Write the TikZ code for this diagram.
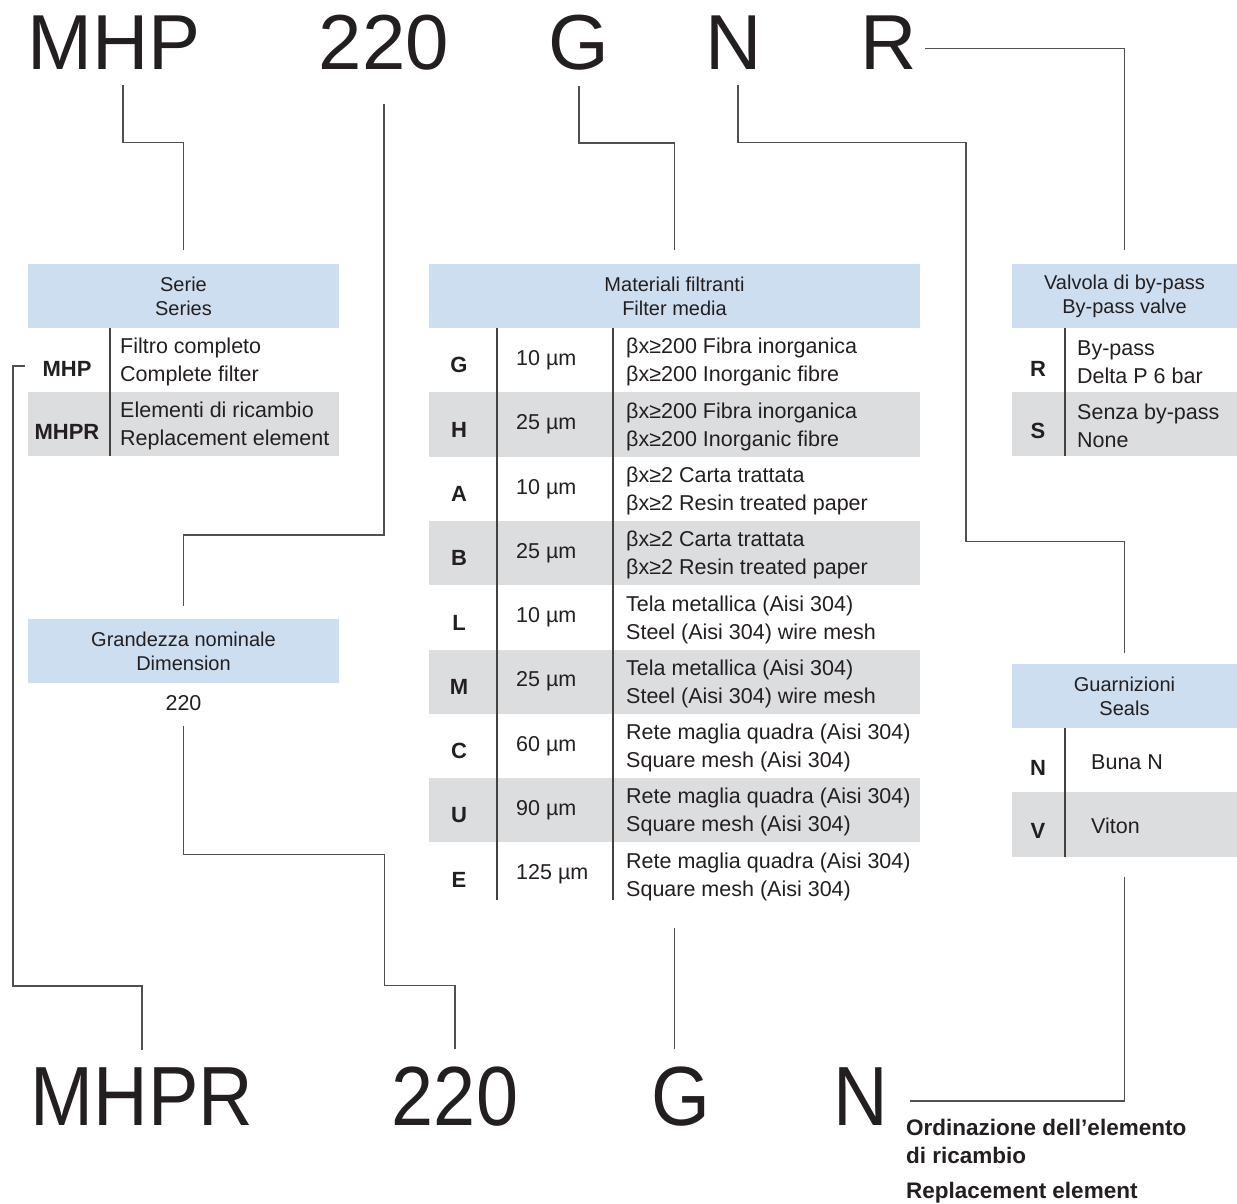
\documentclass[tikz,border=0pt]{standalone}
\usepackage{fontspec}
\setmainfont{Liberation Sans}
\usetikzlibrary{positioning,calc}

\definecolor{ink}{RGB}{35,31,32}
\definecolor{hdrblue}{RGB}{205,222,240}
\definecolor{rowgrey}{RGB}{220,221,223}
\definecolor{wire}{RGB}{80,80,80}

\begin{document}
\begin{tikzpicture}[
  x=1pt,y=-1pt,
  big/.style={font=\fontsize{78}{80}\selectfont,text=ink,inner sep=0pt,anchor=base},
  bigcn/.style={font=\fontsize{84}{86}\selectfont,text=ink,inner sep=0pt,anchor=base},
  hdr/.style={fill=hdrblue,minimum height=64pt,inner sep=0pt,outer sep=0pt,
    align=center,text=ink,font=\fontsize{20}{24}\selectfont},
  rowbox/.style={minimum height=64.3pt,inner sep=0pt,outer sep=0pt},
  greyrow/.style={rowbox,fill=rowgrey},
  code/.style={font=\fontsize{22}{25}\selectfont\bfseries,text=ink,inner sep=0pt},
  txt/.style={font=\fontsize{21.5}{28}\selectfont,text=ink,inner sep=0pt,anchor=west,align=left},
  conn/.style={draw=wire,line width=1.3pt},
  divider/.style={draw=ink!85,line width=1.6pt}
]
  \useasboundingbox (0,0) rectangle (1237,1204);

  % Code on top (complete filter)
  \node[big] (tMHP) at (114,70) {MHP};
  \node[big] (t220) at (384,70) {220};
  \node[big] (tG)   at (579,70) {G};
  \node[big] (tN)   at (734,70) {N};
  \node[big] (tR)   at (889,70) {R};

  % Serie
  \node[hdr,minimum width=311pt] (hSerie) at (183.5,296) {Serie\\Series};
  \node[rowbox,minimum width=311pt] (sMHP) at (183.5,360) {};
  \node[greyrow,minimum width=311pt] (sMHPR) at (183.5,424.3) {};
  \node[code] (cMHP)  at (67,369) {MHP};
  \node[code] (cMHPR) at (67,432) {MHPR};
  \node[txt] (dMHP)  at (120,362) {Filtro completo\\Complete filter};
  \node[txt] (dMHPR) at (120,426) {Elementi di ricambio\\Replacement element};
  \draw[divider] ([xshift=82pt]sMHP.north west) -- ([xshift=82pt]sMHPR.south west);

  % Grandezza nominale
  \node[hdr,minimum width=311pt] (hDim) at (183.5,651) {Grandezza nominale\\Dimension};
  \node[txt,anchor=center] (vDim) at (183.5,703) {220};

  % Materiali filtranti
  \node[hdr,minimum width=491pt] (hMat) at (674.5,296) {Materiali filtranti\\Filter media};
  \node[rowbox,minimum width=491pt]  (mG) at (674.5,360.15) {};
  \node[greyrow,minimum width=491pt] (mH) at (674.5,424.45) {};
  \node[rowbox,minimum width=491pt]  (mA) at (674.5,488.75) {};
  \node[greyrow,minimum width=491pt] (mB) at (674.5,553.05) {};
  \node[rowbox,minimum width=491pt]  (mL) at (674.5,617.35) {};
  \node[greyrow,minimum width=491pt] (mM) at (674.5,681.65) {};
  \node[rowbox,minimum width=491pt]  (mC) at (674.5,745.95) {};
  \node[greyrow,minimum width=491pt] (mU) at (674.5,810.25) {};
  \node[rowbox,minimum width=491pt]  (mE) at (674.5,874.55) {};
  \draw[divider] ([xshift=68pt]mG.north west) -- ([xshift=68pt,yshift=7pt]mE.south west);
  \draw[divider] ([xshift=184pt]mG.north west) -- ([xshift=184pt,yshift=7pt]mE.south west);

  \node[code] (cG) at (459,365) {G};
  \node[code] (cH) at (459,429.5) {H};
  \node[code] (cA) at (459,494) {A};
  \node[code] (cB) at (459,558) {B};
  \node[code] (cL) at (459,622.5) {L};
  \node[code] (cM) at (459,686.5) {M};
  \node[code] (cC) at (459,751) {C};
  \node[code] (cU) at (459,815) {U};
  \node[code] (cE) at (459,879.5) {E};

  \node[txt] (zG) at (516,360) {10 µm};
  \node[txt] (zH) at (516,424.5) {25 µm};
  \node[txt] (zA) at (516,489) {10 µm};
  \node[txt] (zB) at (516,553) {25 µm};
  \node[txt] (zL) at (516,617.5) {10 µm};
  \node[txt] (zM) at (516,681.5) {25 µm};
  \node[txt] (zC) at (516,746) {60 µm};
  \node[txt] (zU) at (516,810) {90 µm};
  \node[txt] (zE) at (516,874.5) {125 µm};

  \node[txt] (dG) at (626,362) {βx≥200 Fibra inorganica\\βx≥200 Inorganic fibre};
  \node[txt] (dH) at (626,426.5) {βx≥200 Fibra inorganica\\βx≥200 Inorganic fibre};
  \node[txt] (dA) at (626,491) {βx≥2 Carta trattata\\βx≥2 Resin treated paper};
  \node[txt] (dB) at (626,555) {βx≥2 Carta trattata\\βx≥2 Resin treated paper};
  \node[txt] (dL) at (626,619.5) {Tela metallica (Aisi 304)\\Steel (Aisi 304) wire mesh};
  \node[txt] (dM) at (626,683.5) {Tela metallica (Aisi 304)\\Steel (Aisi 304) wire mesh};
  \node[txt] (dC) at (626,748) {Rete maglia quadra (Aisi 304)\\Square mesh (Aisi 304)};
  \node[txt] (dU) at (626,812) {Rete maglia quadra (Aisi 304)\\Square mesh (Aisi 304)};
  \node[txt] (dE) at (626,876.5) {Rete maglia quadra (Aisi 304)\\Square mesh (Aisi 304)};

  % Valvola di by-pass
  \node[hdr,minimum width=225pt] (hValve) at (1124.5,296) {Valvola di by-pass\\By-pass valve};
  \node[rowbox,minimum width=225pt]  (vR) at (1124.5,360) {};
  \node[greyrow,minimum width=225pt] (vS) at (1124.5,424.3) {};
  \node[code] (cR) at (1038,369) {R};
  \node[code] (cS) at (1038,431) {S};
  \node[txt] (dR) at (1077,362) {By-pass\\Delta P 6 bar};
  \node[txt] (dS) at (1077,426) {Senza by-pass\\None};
  \draw[divider] ([xshift=53pt]vR.north west) -- ([xshift=53pt]vS.south west);

  % Guarnizioni
  \node[hdr,minimum width=225pt] (hSeal) at (1124.5,696) {Guarnizioni\\Seals};
  \node[rowbox,minimum width=225pt]  (sN) at (1124.5,760.15) {};
  \node[greyrow,minimum width=225pt] (sV) at (1124.5,824.45) {};
  \node[code] (cN) at (1038,768) {N};
  \node[code] (cV) at (1038,831) {V};
  \node[txt] (dN) at (1091,762) {Buna N};
  \node[txt] (dV) at (1091,826) {Viton};
  \draw[divider] ([xshift=53pt]sN.north west) -- ([xshift=53pt]sV.south west);

  % Code at the bottom (replacement element)
  \node[bigcn] (bMHPR) at (142,1125) {\scalebox{0.9}[1]{MHPR}};
  \node[bigcn] (b220)  at (455,1125) {\scalebox{0.9}[1]{220}};
  \node[bigcn] (bG)    at (681,1125) {\scalebox{0.9}[1]{G}};
  \node[bigcn] (bN)    at (861,1125) {\scalebox{0.9}[1]{N}};
  \node[txt,anchor=north west,font=\fontsize{22.5}{28}\selectfont\bfseries] (note) at (906,1119)
    {Ordinazione dell’elemento\\di ricambio\\[7pt]Replacement element};

  % Connectors
  \draw[conn] ([xshift=9pt,yshift=-15pt]tMHP.south) -- ++(0,57) -| ([yshift=14pt]hSerie.north);
  \draw[conn] ([yshift=-33pt]t220.south) -- ++(0,431) -| ([yshift=13pt]hDim.north);
  \draw[conn] ([yshift=-15pt]tG.south) -- ++(0,57) -| ([yshift=14pt]hMat.north);
  \draw[conn] ([xshift=4pt,yshift=-15pt]tN.south) -- ++(0,57) -- ++(228,0) -- ++(0,399)
    -| ([yshift=11pt]hSeal.north);
  \draw[conn] ([xshift=8pt,yshift=-5pt]tR.east) -| ([yshift=14pt]hValve.north);

  \draw[conn] ([xshift=-17.5pt,yshift=3pt]cMHP.west) -- ++(-12,0) -- ++(0,620)
    -| ([yshift=17pt]bMHPR.north);
  \draw[conn] ([yshift=-15pt]vDim.south) -- ++(0,129) -- ++(201,0) -- ++(0,131)
    -| ([yshift=17pt]b220.north);
  \draw[conn] ([yshift=-21pt]mE.south) -- ([yshift=17pt]mE.south |- bG.north);
  \draw[conn] ([yshift=-20pt]sV.south) |- ([xshift=21pt,yshift=-5pt]bN.east);
\end{tikzpicture}
\end{document}
